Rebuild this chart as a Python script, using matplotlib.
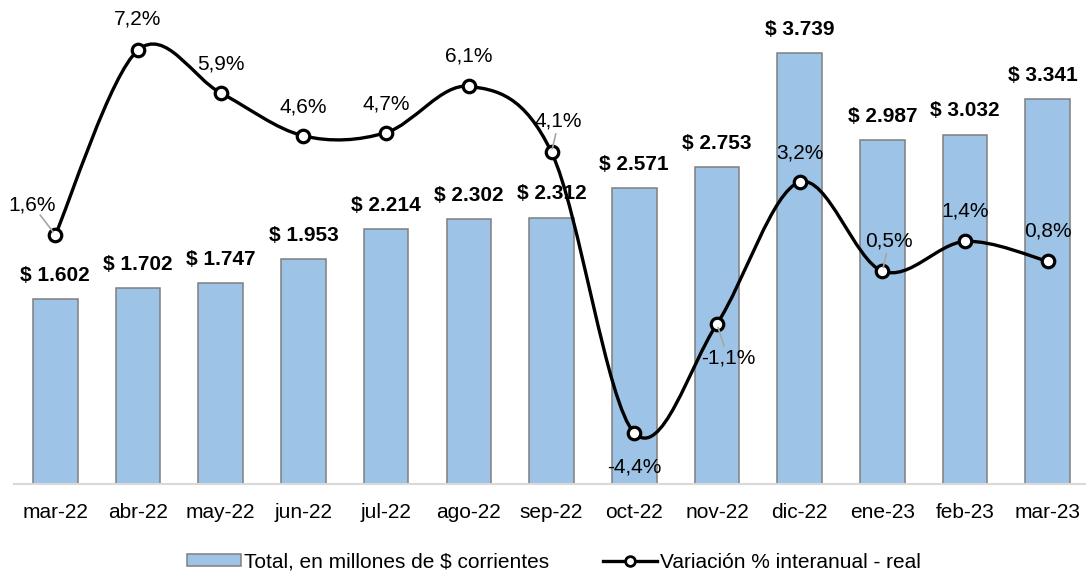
import matplotlib
matplotlib.use("Agg")
import matplotlib.pyplot as plt
from matplotlib.path import Path
from matplotlib.patches import PathPatch, Patch
from matplotlib.lines import Line2D
from matplotlib.transforms import offset_copy
import numpy as np

plt.rcParams['font.family'] = ['Liberation Sans', 'DejaVu Sans']

categories = ["mar-22", "abr-22", "may-22", "jun-22", "jul-22", "ago-22", "sep-22",
              "oct-22", "nov-22", "dic-22", "ene-23", "feb-23", "mar-23"]
totals = [1602, 1702, 1747, 1953, 2214, 2302, 2312, 2571, 2753, 3739, 2987, 3032, 3341]
variation = [1.6, 7.2, 5.9, 4.6, 4.7, 6.1, 4.1, -4.4, -1.1, 3.2, 0.5, 1.4, 0.8]
bar_label = "Total, en millones de $ corrientes"
line_label = "Variación % interanual - real"

# label offsets in pixels (dx, dy up) and whether a leader line is drawn
pct_offsets = [(-23, 30, True), (0, 31, False), (0, 29, False), (0, 29, False), (0, 29, False),
               (0, 30, False), (7, 31, True), (0, -34, False), (11, -34, True), (0, 29, False),
               (7, 30, True), (0, 30, False), (0, 30, False)]

W, H = 1086, 574
PT = 0.72  # points per pixel at dpi 100
fig = plt.figure(figsize=(W / 100, H / 100), dpi=100)
left, right = 14 / W, (14 + 13 * 82.7) / W
bottom, top = (H - 484) / H, (H - 23) / H
ax = fig.add_axes([left, bottom, right - left, top - bottom])
ax2 = ax.twinx()

x = np.arange(len(categories))
ax.bar(x, totals, width=0.54, color="#9DC3E6", edgecolor="#7F7F7F", linewidth=1.1, zorder=2)
ax.set_xlim(-0.5, len(categories) - 0.5)
ax.set_ylim(0, 4000)
for i, v in enumerate(totals):
    txt = "$ " + f"{v:,}".replace(",", ".")
    dx = -5 if i == len(totals) - 1 else 0
    ax.annotate(txt, (x[i], v), xytext=(dx * PT, 17), textcoords="offset points",
                ha="center", va="center", fontsize=15, fontweight="bold", color="#000000")

for s in ["left", "right", "top", "bottom"]:
    ax2.spines[s].set_visible(False)
for s in ["left", "right", "top"]:
    ax.spines[s].set_visible(False)
ax.spines["bottom"].set_color("#D9D9D9")
ax.spines["bottom"].set_linewidth(1.5)
ax.set_yticks([])
ax2.set_yticks([])
ax.set_xticks(x)
ax.set_xticklabels(categories, fontsize=15)
ax.tick_params(axis="x", length=0, pad=14)

# smooth line (Catmull-Rom style Bezier through the data points)
ax2.set_ylim(-5.95, 8.02)
ax2.set_xlim(-0.5, len(categories) - 0.5)
pts = np.column_stack([x, variation]).astype(float)
n = len(pts)
verts = [tuple(pts[0])]
codes = [Path.MOVETO]
for i in range(n - 1):
    p0 = pts[i - 1] if i > 0 else pts[i]
    p1 = pts[i]
    p2 = pts[i + 1]
    p3 = pts[i + 2] if i + 2 < n else pts[i + 1]
    c1 = p1 + (p2 - p0) / 6
    c2 = p2 - (p3 - p1) / 6
    verts += [tuple(c1), tuple(c2), tuple(p2)]
    codes += [Path.CURVE4] * 3
ax2.add_patch(PathPatch(Path(verts, codes), facecolor="none", edgecolor="black",
                        linewidth=2.4, zorder=3, capstyle="round", joinstyle="round"))
ax2.plot(x, variation, linestyle="none", marker="o", markersize=9, markerfacecolor="white",
         markeredgecolor="black", markeredgewidth=2.3, zorder=4)

for i, v in enumerate(variation):
    dx, dy, leader = pct_offsets[i]
    txt = f"{v:.1f}%".replace(".", ",")
    ax2.annotate(txt, (x[i], v), xytext=(dx * PT, dy * PT), textcoords="offset points",
                 ha="center", va="center", fontsize=15, color="#000000", zorder=5)
    if leader:
        norm = np.hypot(dx, dy)
        start = (dx * (norm - 13) / norm * PT, dy * (norm - 13) / norm * PT)
        end = (dx * 4 / norm * PT, dy * 4 / norm * PT)
        t0 = offset_copy(ax2.transData, fig=fig, x=start[0], y=start[1], units="points")
        t1 = offset_copy(ax2.transData, fig=fig, x=end[0], y=end[1], units="points")
        p_start = t0.transform((x[i], v))
        p_end = t1.transform((x[i], v))
        fig.add_artist(Line2D([p_start[0], p_end[0]], [p_start[1], p_end[1]],
                              transform=None, color="#A6A6A6", linewidth=1.2, zorder=6))

handles = [Patch(facecolor="#9DC3E6", edgecolor="#7F7F7F", linewidth=1.1),
           Line2D([0], [0], color="black", linewidth=2.4, marker="o", markersize=7,
                  markerfacecolor="white", markeredgecolor="black", markeredgewidth=2)]
fig.legend(handles, [bar_label, line_label], loc="center", bbox_to_anchor=(554 / W, 1 - 562 / H),
           ncol=2, frameon=False, fontsize=15, handlelength=2.6, handleheight=0.5,
           handletextpad=0.15, columnspacing=2.6, borderpad=0, borderaxespad=0)

fig.savefig("out.png", dpi=100)
